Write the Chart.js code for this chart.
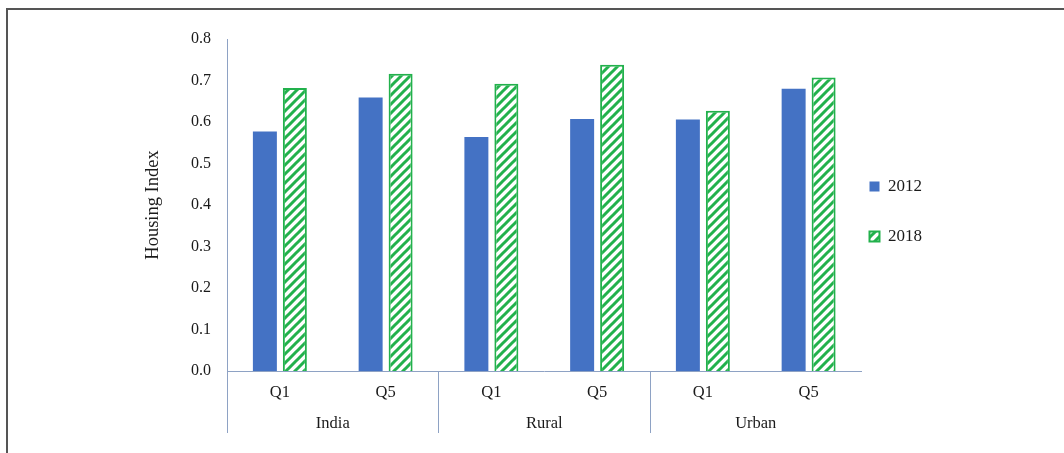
<!DOCTYPE html>
<html>
<head>
<meta charset="utf-8">
<script src="https://cdn.jsdelivr.net/npm/chart.js@4/dist/chart.umd.min.js"></script>
<style>
    html, body { margin: 0; padding: 0; background: #fff; overflow: hidden; }
    #wrap { position: relative; width: 1064px; height: 453px; }
    #frame { position: absolute; left: 6px; top: 8px; width: 1200px; height: 600px; border-left: 2px solid #555; border-top: 2px solid #555; }
    #chart { position: absolute; left: 0; top: 0; }
</style>
</head>
<body>
<div id="wrap">
    <div id="frame"></div>
    <canvas id="chart" width="1064" height="453"></canvas>
</div>
<script>
const quintiles = ['Q1', 'Q5', 'Q1', 'Q5', 'Q1', 'Q5'];
const groups = ['India', 'Rural', 'Urban'];
const values2012 = [0.577, 0.659, 0.564, 0.607, 0.606, 0.680];
const values2018 = [0.682, 0.716, 0.692, 0.738, 0.627, 0.707];
const yTicks = [0, 0.1, 0.2, 0.3, 0.4, 0.5, 0.6, 0.7, 0.8];

const blue = '#4472C4';
const green = '#22B14C';
const axisColor = '#8EA2C4';
const serif = "'Liberation Serif', 'Times New Roman', serif";

const canvas = document.getElementById('chart');
const ctx = canvas.getContext('2d');

// diagonal stripes like the excel pattern fill
function makeHatch(color) {
    const size = 9;
    const c = document.createElement('canvas');
    c.width = size; c.height = size;
    const g = c.getContext('2d');
    g.fillStyle = '#fff';
    g.fillRect(0, 0, size, size);
    g.strokeStyle = color;
    g.lineWidth = 3;
    g.beginPath();
    g.moveTo(-1, size + 1); g.lineTo(size + 1, -1);
    g.moveTo(-2, 2); g.lineTo(2, -2);
    g.moveTo(size - 2, size + 2); g.lineTo(size + 2, size - 2);
    g.stroke();
    return ctx.createPattern(c, 'repeat');
}

const hatch = makeHatch(green);

new Chart(ctx, {
    type: 'bar',
    data: {
        labels: quintiles,
        datasets: [
            { label: '2012', data: values2012, backgroundColor: blue, borderWidth: 0 },
            { label: '2018', data: values2018, backgroundColor: hatch, borderColor: green, borderWidth: 2 }
        ]
    },
    options: {
        responsive: false,
        animation: false,
        devicePixelRatio: 1,
        barPercentage: 0.8,
        categoryPercentage: 0.567,
        layout: { padding: { left: 0, right: 132, top: 39, bottom: 20 } },
        scales: {
            x: {
                grid: {
                    offset: true,
                    drawOnChartArea: false,
                    tickLength: 62,
                    color: c => c.index % 2 === 0 ? axisColor : 'rgba(0,0,0,0)',
                    tickColor: c => c.index % 2 === 0 ? axisColor : 'rgba(0,0,0,0)'
                },
                border: { display: true, color: axisColor },
                ticks: { color: '#1a1a1a', font: { family: serif, size: 16.5 }, padding: -50, maxRotation: 0 },
                afterFit: s => { s.height = 31; }
            },
            x2: {
                type: 'category',
                position: 'bottom',
                labels: groups,
                offset: true,
                grid: { display: false, drawTicks: false },
                border: { display: false },
                ticks: { color: '#1a1a1a', font: { family: serif, size: 16.5 }, padding: 12, maxRotation: 0 },
                afterFit: s => { s.height = 31; }
            },
            y: {
                min: 0,
                max: 0.8,
                afterBuildTicks: s => { s.ticks = yTicks.map(v => ({ value: v })); },
                grid: { display: false, drawTicks: false },
                border: { display: true, color: axisColor },
                ticks: {
                    color: '#1a1a1a',
                    font: { family: serif, size: 16 },
                    padding: 16,
                    callback: v => Number(v).toFixed(1)
                },
                title: {
                    display: true,
                    text: 'Housing Index',
                    color: '#1a1a1a',
                    font: { family: serif, size: 18.5 },
                    padding: { top: 142, bottom: 0 }
                },
                afterFit: s => { s.width = 227; }
            }
        },
        plugins: {
            tooltip: { enabled: false },
            legend: {
                position: 'right',
                fullSize: false,
                onClick: null,
                title: { display: true, text: ' ', font: { size: 10, lineHeight: 1.3 }, padding: 0 },
                labels: {
                    color: '#1a1a1a',
                    font: { family: serif, size: 17 },
                    boxWidth: 10,
                    boxHeight: 10,
                    padding: 8,
                    generateLabels: chart => {
                        const items = Chart.defaults.plugins.legend.labels.generateLabels(chart);
                        // empty row between entries for the wide spacing
                        items.splice(1, 0, { text: '', fillStyle: 'rgba(0,0,0,0)', strokeStyle: 'rgba(0,0,0,0)', lineWidth: 0, hidden: false, datasetIndex: -1 });
                        return items;
                    }
                }
            }
        }
    }
});
</script>
</body>
</html>
